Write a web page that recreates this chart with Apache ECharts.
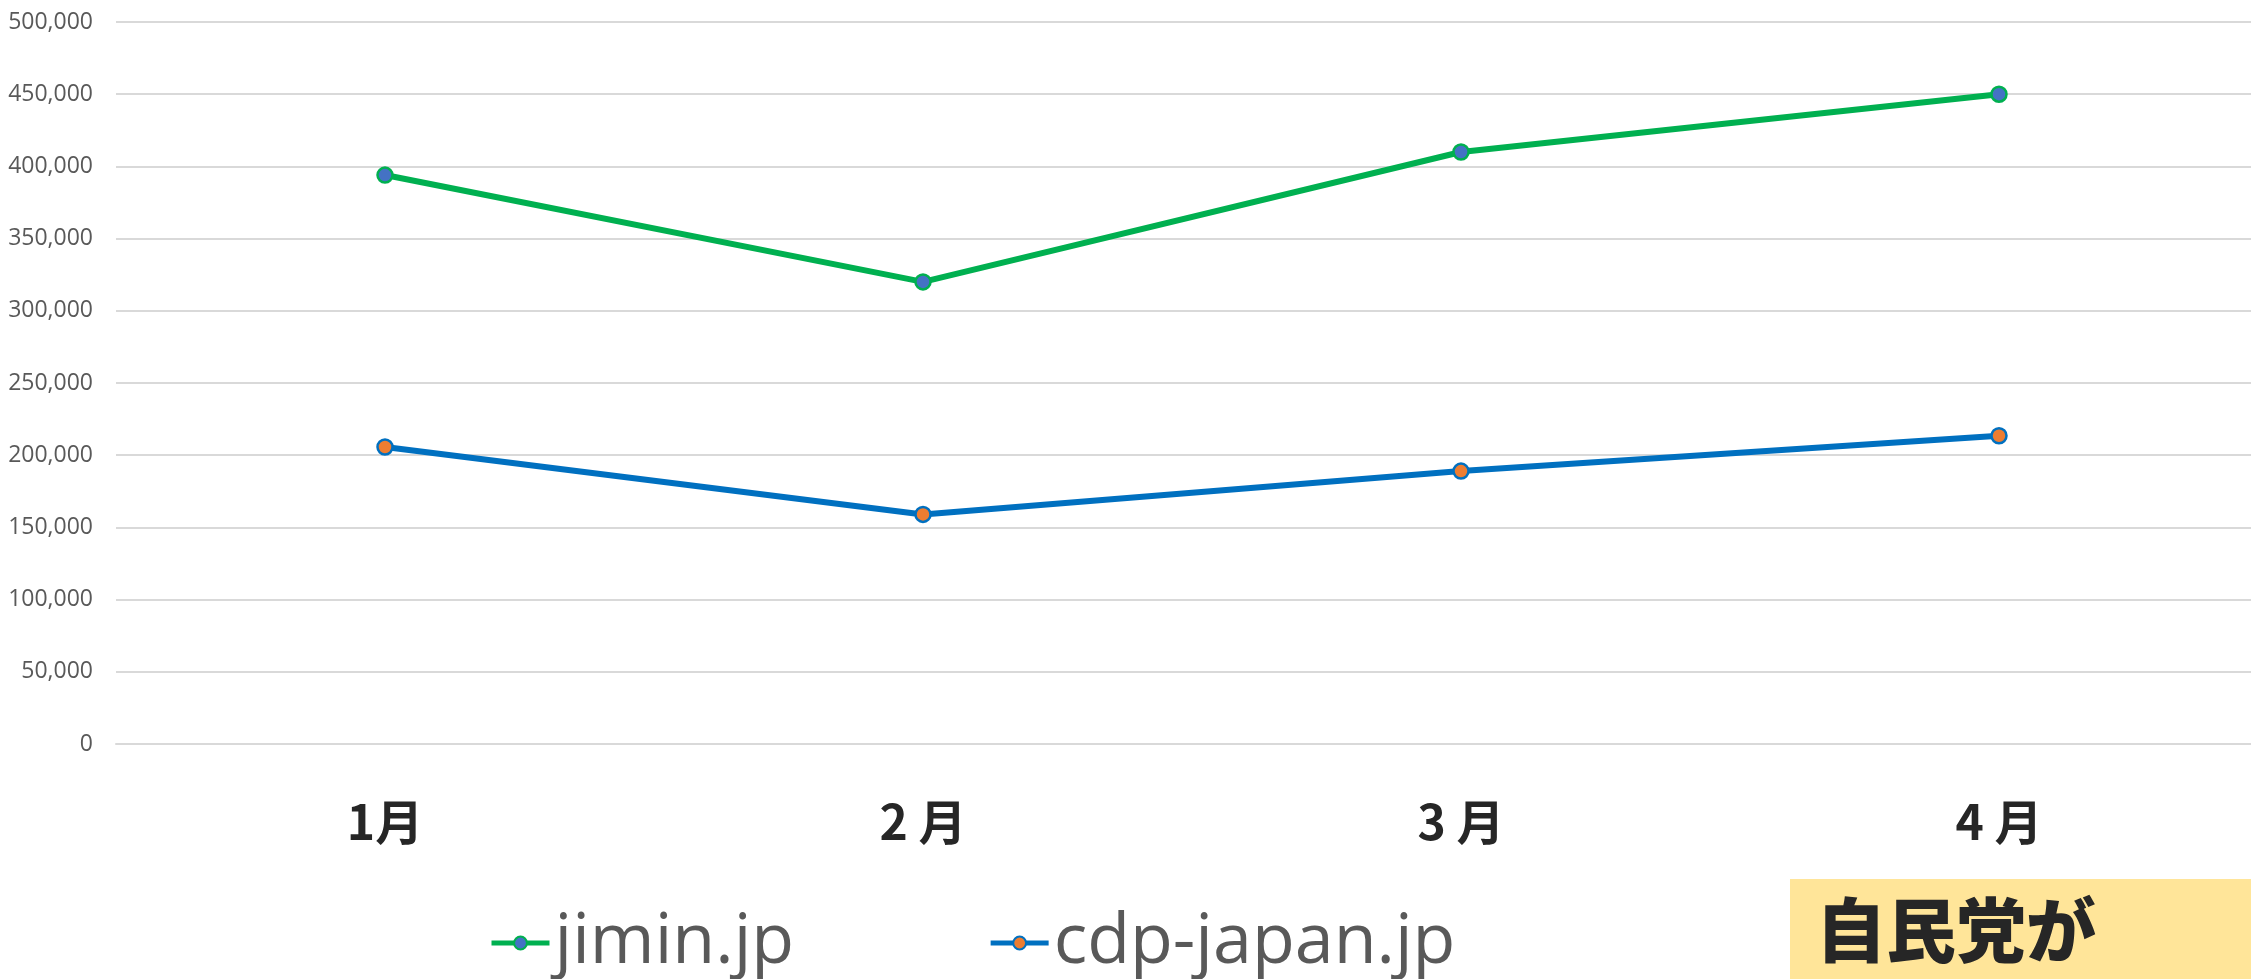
<!DOCTYPE html>
<html lang="ja">
<head>
    <meta charset="UTF-8">
    <title>jimin.jp / cdp-japan.jp</title>
    <script type="text/javascript" src="https://cdn.jsdelivr.net/npm/echarts@6/dist/echarts.min.js"></script>
    <style>
        html, body { margin: 0; padding: 0; background: #fff; }
        #chart1 { width: 2251px; height: 979px; }
    </style>
</head>
<body>
    <div id="chart1"></div>
</body>
<script type="text/javascript">
    // 月
    var months = ['1月', '2 月', '3 月', '4 月']
    // アクセス数
    var jimin = [394000, 320000, 410000, 450000]
    var cdp = [205700, 159000, 189000, 213500]
    var yTicks = [0, 50000, 100000, 150000, 200000, 250000, 300000, 350000, 400000, 450000, 500000]

    var chart = echarts.init(document.getElementById('chart1'))

    function fmt(v) {
        return String(v).replace(/\B(?=(\d{3})+(?!\d))/g, ',')
    }

    var option = {
        animation: false,
        backgroundColor: '#fff',
        grid: { left: 116, width: 2152, top: 22, bottom: 235, outerBoundsMode: 'none' },
        legend: {
            bottom: -4,
            left: 484,
            itemWidth: 58,
            itemHeight: 16,
            itemGap: 194,
            lineStyle: { width: 5 },
            textStyle: { fontSize: 70, color: '#595959', fontFamily: 'Open Sans' },
            data: ['jimin.jp', 'cdp-japan.jp']
        },
        xAxis: {
            type: 'category',
            data: months,
            axisLine: { lineStyle: { color: '#d9d9d9', width: 2 } },
            axisTick: { show: false },
            axisLabel: {
                margin: 54,
                fontSize: 48,
                fontWeight: 'bold',
                color: '#262626',
                fontFamily: 'Noto Sans CJK JP'
            }
        },
        yAxis: {
            type: 'value',
            min: yTicks[0],
            max: yTicks[yTicks.length - 1],
            interval: 50000,
            axisLine: { show: false },
            axisTick: { show: false },
            splitLine: { lineStyle: { color: '#d9d9d9', width: 2 } },
            axisLabel: {
                margin: 23,
                fontSize: 23,
                color: '#595959',
                fontFamily: 'Open Sans',
                formatter: fmt
            }
        },
        series: [
            {
                name: 'jimin.jp',
                type: 'line',
                data: jimin,
                symbol: 'circle',
                symbolSize: 15,
                lineStyle: { color: '#00b050', width: 6 },
                itemStyle: { color: '#4472c4', borderColor: '#00b050', borderWidth: 2.5 }
            },
            {
                name: 'cdp-japan.jp',
                type: 'line',
                data: cdp,
                symbol: 'circle',
                symbolSize: 15,
                lineStyle: { color: '#0070c0', width: 6 },
                itemStyle: { color: '#ed7d31', borderColor: '#0070c0', borderWidth: 2.5 }
            }
        ],
        graphic: [
            {
                type: 'rect',
                left: 1790,
                top: 879,
                shape: { width: 461, height: 100 },
                style: { fill: '#ffe599' }
            },
            {
                type: 'text',
                left: 1816,
                top: 895,
                style: {
                    text: '自民党が',
                    fontSize: 70,
                    fontWeight: 900,
                    fontFamily: 'Noto Sans CJK JP',
                    fill: '#262626'
                }
            }
        ]
    }
    chart.setOption(option)
</script>
</html>
